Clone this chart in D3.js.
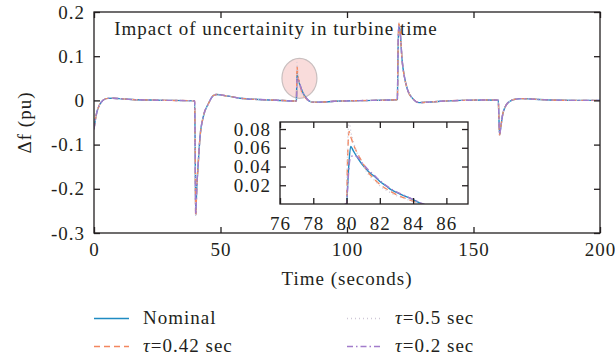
<!DOCTYPE html>
<html>
<head>
<meta charset="utf-8">
<script src="https://cdn.jsdelivr.net/npm/d3@7"></script>
</head>
<body style="margin:0; background:#ffffff">
<script>
//Size of the page
var width = 615;
var height = 360;

//Main plot data: time (s) and frequency deviation (pu)
var mainTime = [0, 0.5, 1, 2, 3, 4, 5.5, 7.5, 10, 15, 25, 39.8, 40.0, 40.2, 40.6, 41.2, 41.9, 43.2, 45.2, 47.2, 48.5, 50, 53.7, 57.7, 65, 72,
  79.8, 80.0, 80.25, 80.5, 81, 81.5, 82, 82.7, 83.3, 84, 85, 86.5, 89, 95, 105, 119.6, 119.9, 120.2, 120.5, 121, 121.8, 122.7, 124, 126, 128.5,
  132, 137, 145, 155, 159.8, 160.0, 160.3, 160.8, 161.6, 162.5, 163.5, 164.4, 166, 169, 173, 180, 190, 200];
var mainNominal = [-0.065, -0.045, -0.03, -0.012, -0.003, 0.002, 0.0045, 0.005, 0.004, 0.002, 0.0005, -0.001, -0.12, -0.26, -0.2, -0.143, -0.083, -0.037, -0.0075, 0.011, 0.0135, 0.0125, 0.009, 0.005, 0.002, 0.0005,
  -0.0015, 0.0, 0.062, 0.053, 0.042, 0.033, 0.025, 0.016, 0.01, 0.004, -0.001, -0.004, -0.004, -0.002, -0.0005, 0.0015, 0.002, 0.12, 0.172, 0.155, 0.09, 0.053, 0.023, 0.004, -0.005,
  -0.004, -0.002, 0.0, 0.001, 0.0005, -0.03, -0.078, -0.06, -0.03, -0.015, -0.006, -0.002, 0.002, 0.004, 0.003, 0.001, 0.0, 0.0];
var mainTau042 = [-0.065, -0.045, -0.03, -0.012, -0.003, 0.002, 0.0045, 0.005, 0.004, 0.002, 0.0005, -0.001, -0.12, -0.262, -0.2, -0.143, -0.083, -0.037, -0.0075, 0.011, 0.0135, 0.0125, 0.009, 0.005, 0.002, 0.0005,
  -0.0015, 0.0, 0.077, 0.06, 0.044, 0.031, 0.021, 0.013, 0.0075, 0.003, -0.001, -0.004, -0.004, -0.002, -0.0005, 0.0015, 0.002, 0.12, 0.174, 0.155, 0.09, 0.053, 0.023, 0.004, -0.005,
  -0.004, -0.002, 0.0, 0.001, 0.0005, -0.03, -0.079, -0.06, -0.03, -0.015, -0.006, -0.002, 0.002, 0.004, 0.003, 0.001, 0.0, 0.0];
var mainTau05 = [-0.065, -0.045, -0.03, -0.012, -0.003, 0.002, 0.0045, 0.005, 0.004, 0.002, 0.0005, -0.001, -0.12, -0.263, -0.2, -0.143, -0.083, -0.037, -0.0075, 0.011, 0.0135, 0.0125, 0.009, 0.005, 0.002, 0.0005,
  -0.0015, 0.0, 0.086, 0.064, 0.041, 0.029, 0.019, 0.011, 0.0065, 0.002, -0.001, -0.004, -0.004, -0.002, -0.0005, 0.0015, 0.002, 0.12, 0.176, 0.155, 0.09, 0.053, 0.023, 0.004, -0.005,
  -0.004, -0.002, 0.0, 0.001, 0.0005, -0.03, -0.079, -0.06, -0.03, -0.015, -0.006, -0.002, 0.002, 0.004, 0.003, 0.001, 0.0, 0.0];
var mainTau02 = [-0.065, -0.045, -0.03, -0.012, -0.003, 0.002, 0.0045, 0.005, 0.004, 0.002, 0.0005, -0.001, -0.12, -0.258, -0.2, -0.143, -0.083, -0.037, -0.0075, 0.011, 0.0135, 0.0125, 0.009, 0.005, 0.002, 0.0005,
  -0.0015, 0.0, 0.051, 0.051, 0.044, 0.035, 0.025, 0.016, 0.0105, 0.005, -0.001, -0.004, -0.004, -0.002, -0.0005, 0.0015, 0.002, 0.12, 0.168, 0.155, 0.09, 0.053, 0.023, 0.004, -0.005,
  -0.004, -0.002, 0.0, 0.001, 0.0005, -0.03, -0.077, -0.06, -0.03, -0.015, -0.006, -0.002, 0.002, 0.004, 0.003, 0.001, 0.0, 0.0];

//Inset data: zoom on the disturbance at 80 s
var insetTime = [79.9, 80.0, 80.05, 80.15, 80.25, 80.4, 80.6, 80.9, 81.3, 81.7, 82.0, 82.4, 82.7, 83.0, 83.3, 83.7, 84.0, 84.3, 84.6, 85.0];
var insetNominal = [0, 0, 0.015, 0.045, 0.0615, 0.057, 0.051, 0.043, 0.035, 0.029, 0.024, 0.019, 0.015, 0.0125, 0.010, 0.007, 0.0046, 0.002, -0.0005, -0.002];
var insetTau042 = [0, 0, 0.04, 0.0775, 0.072, 0.064, 0.056, 0.046, 0.034, 0.026, 0.021, 0.016, 0.013, 0.01, 0.0077, 0.005, 0.003, 0.001, -0.001, -0.003];
var insetTau05 = [0, 0, 0.05, 0.09, 0.078, 0.067, 0.056, 0.045, 0.032, 0.025, 0.0195, 0.0145, 0.0115, 0.009, 0.0068, 0.0045, 0.0025, 0.0008, -0.001, -0.003];
var insetTau02 = [0, 0, 0.012, 0.04, 0.05, 0.0515, 0.051, 0.0445, 0.0365, 0.030, 0.025, 0.0195, 0.0158, 0.013, 0.0105, 0.0073, 0.005, 0.0025, 0.0, -0.002];

//Tick values and labels
var mainXTicks = [0, 50, 100, 150, 200];
var mainYTicks = [-0.3, -0.2, -0.1, 0, 0.1, 0.2];
var insetXTicks = [76, 78, 80, 82, 84, 86];
var insetYTicks = [0.02, 0.04, 0.06, 0.08];

//Series names and styles (legend order: column by column); [symbol, rest]
var seriesNames = [["", "Nominal"], ["τ", "=0.42 sec"], ["τ", "=0.5 sec"], ["τ", "=0.2 sec"]];
var seriesColors = ["#1f8bc2", "#f3875f", "#cfc8d6", "#a27ccb"];
var seriesDash = ["none", "6,4", "1,3", "6,3,1.5,3"];

//Highlighted point on the main plot (time, value)
var highlight = [81.2, 0.05];
var titleText = "Impact of uncertainity in turbine time";

var axisColor = "#231f20";
var fontFamily = "Liberation Serif";

//Applies the serif font directly on a text selection
function serif(sel) {
  sel.attr("font-family", fontFamily)
    .attr("font-size", 19)
    .attr("letter-spacing", 1)
    .attr("fill", axisColor);
}

var svg = d3.select("body").append("svg")
  .attr("width", width)
  .attr("height", height);

//Scales of the main plot
var x = d3.scaleLinear().domain([0, 200]).range([94, 600]);
var y = d3.scaleLinear().domain([-0.3, 0.2]).range([233, 12]);
//Scales of the inset
var xi = d3.scaleLinear().domain([76, 87.3]).range([280, 468]);
var yi = d3.scaleLinear().domain([0, 0.0875]).range([204, 122]);

var defs = svg.append("defs");
defs.append("clipPath").attr("id", "clipMain").append("rect")
  .attr("x", x(0)).attr("y", y(0.2)).attr("width", x(200) - x(0)).attr("height", y(-0.3) - y(0.2));
defs.append("clipPath").attr("id", "clipInset").append("rect")
  .attr("x", xi(76)).attr("y", yi(0.0875)).attr("width", xi(87.3) - xi(76)).attr("height", yi(0) - yi(0.0875));

//Highlight ellipse around the peak at 80 s
svg.append("ellipse")
  .attr("cx", x(highlight[0]))
  .attr("cy", y(highlight[1]))
  .attr("rx", 17.5)
  .attr("ry", 20)
  .style("fill", "#f9dcdb")
  .style("stroke", "#c9bfbf")
  .style("stroke-width", 1.2);

//Draws ticks on the four sides of a box, ticks pointing inwards
function drawFrame(g, xs, ys, xt, yt, xfmt, yfmt, xPad, yPad) {
  var x0 = xs.range()[0], x1 = xs.range()[1];
  var y0 = ys.range()[1], y1 = ys.range()[0];
  var bottom = g.append("g").attr("transform", "translate(0," + y1 + ")")
    .call(d3.axisBottom(xs).tickValues(xt).tickSize(-6).tickSizeOuter(0).tickPadding(xPad).tickFormat(xfmt));
  var top = g.append("g").attr("transform", "translate(0," + y0 + ")")
    .call(d3.axisTop(xs).tickValues(xt).tickSize(-6).tickSizeOuter(0).tickFormat(""));
  var left = g.append("g").attr("transform", "translate(" + x0 + ",0)")
    .call(d3.axisLeft(ys).tickValues(yt).tickSize(-6).tickSizeOuter(0).tickPadding(yPad).tickFormat(yfmt));
  var right = g.append("g").attr("transform", "translate(" + x1 + ",0)")
    .call(d3.axisRight(ys).tickValues(yt).tickSize(-6).tickSizeOuter(0).tickFormat(""));
  [bottom, top, left, right].forEach(function (a) {
    a.attr("font-family", null).attr("font-size", null);
    a.select(".domain").remove();
    a.selectAll("line").style("stroke", axisColor).style("stroke-width", 1.3);
    a.selectAll("text").call(serif);
  });
  top.selectAll("text").remove();
  right.selectAll("text").remove();
  g.append("rect")
    .attr("x", x0).attr("y", y0).attr("width", x1 - x0).attr("height", y1 - y0)
    .style("fill", "none").style("stroke", axisColor).style("stroke-width", 1.3);
}

//Main lines
var mainSeries = [mainNominal, mainTau042, mainTau05, mainTau02];
var mainLine = d3.line()
  .x(function (d) { return x(d[0]); })
  .y(function (d) { return y(d[1]); })
  .curve(d3.curveMonotoneX);

svg.append("g").attr("clip-path", "url(#clipMain)")
  .selectAll("path")
  .data(mainSeries)
  .enter()
  .append("path")
  .attr("d", function (vals) { return mainLine(d3.zip(mainTime, vals)); })
  .style("fill", "none")
  .style("stroke", function (d, i) { return seriesColors[i]; })
  .style("stroke-dasharray", function (d, i) { return seriesDash[i]; })
  .style("stroke-width", 1.4);

drawFrame(svg.append("g"), x, y, mainXTicks, mainYTicks, d3.format("d"), function (d) { return d === 0 ? "0" : d3.format(".1f")(d).replace("−", "-"); }, 10, 9);

//Inset box (white background)
svg.append("rect")
  .attr("x", xi(76)).attr("y", yi(0.0875))
  .attr("width", xi(87.3) - xi(76)).attr("height", yi(0) - yi(0.0875))
  .style("fill", "#ffffff");

var insetSeries = [insetNominal, insetTau042, insetTau05, insetTau02];
var insetLine = d3.line()
  .x(function (d) { return xi(d[0]); })
  .y(function (d) { return yi(d[1]); })
  .curve(d3.curveMonotoneX);

svg.append("g").attr("clip-path", "url(#clipInset)")
  .selectAll("path")
  .data(insetSeries)
  .enter()
  .append("path")
  .attr("d", function (vals) { return insetLine(d3.zip(insetTime, vals)); })
  .style("fill", "none")
  .style("stroke", function (d, i) { return seriesColors[i]; })
  .style("stroke-dasharray", function (d, i) { return seriesDash[i]; })
  .style("stroke-width", 1.4);

drawFrame(svg.append("g"), xi, yi, insetXTicks, insetYTicks, d3.format("d"), d3.format(".2f"), 13, 9);

//Title inside the plot
svg.append("text")
  .call(serif)
  .attr("x", x(8))
  .attr("y", y(0.2) + 23)
  .text(titleText);

//Axis labels
svg.append("text")
  .call(serif)
  .attr("x", (x(0) + x(200)) / 2)
  .attr("y", 285)
  .attr("text-anchor", "middle")
  .text("Time (seconds)");

svg.append("text")
  .call(serif)
  .attr("transform", "translate(31," + ((y(0.2) + y(-0.3)) / 2) + ") rotate(-90)")
  .attr("text-anchor", "middle")
  .text("Δf (pu)");

//Legend: two columns, two rows
var legend = svg.append("g")
  .selectAll("g")
  .data(seriesNames)
  .enter()
  .append("g")
  .attr("transform", function (d, i) {
    var lx = i < 2 ? 94 : 347;
    var ly = (i % 2) * 28 + 318.5;
    return "translate(" + lx + "," + ly + ")";
  });

legend.append("line")
  .attr("x1", 0).attr("x2", 35)
  .attr("y1", 0).attr("y2", 0)
  .style("stroke", function (d, i) { return seriesColors[i]; })
  .style("stroke-dasharray", function (d, i) { return seriesDash[i]; })
  .style("stroke-width", 1.4);

var legendText = legend.append("text")
  .call(serif)
  .attr("x", function (d, i) { return i < 2 ? 49 : 48; })
  .attr("y", 5);
legendText.append("tspan")
  .attr("font-style", "italic")
  .text(function (d) { return d[0]; });
legendText.append("tspan")
  .text(function (d) { return d[1]; });
</script>
</body>
</html>
